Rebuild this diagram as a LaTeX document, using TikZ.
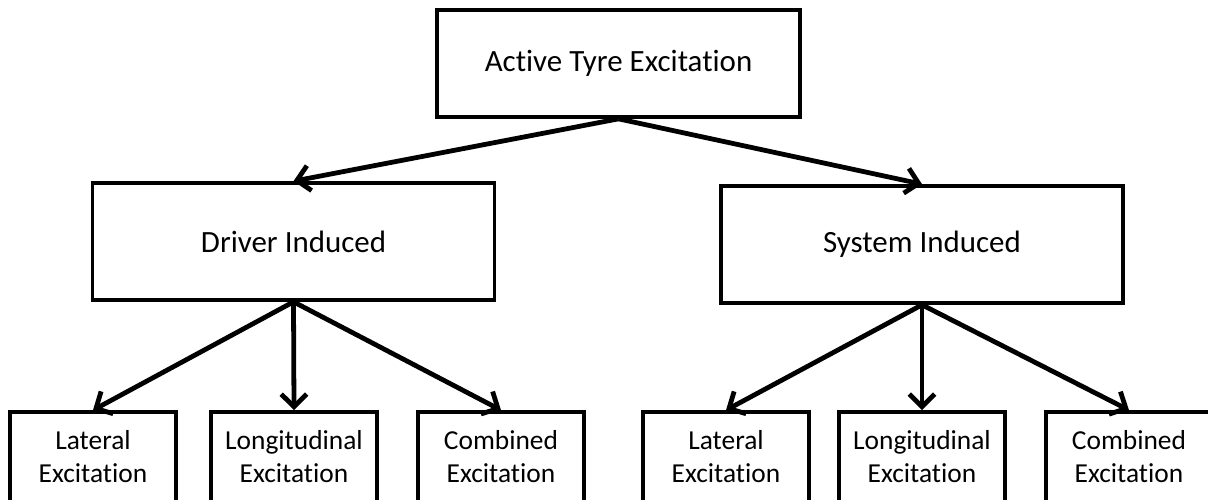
\documentclass[tikz,border=0pt]{standalone}
\usepackage{fontspec}
\setmainfont{Carlito}[Ligatures = NoCommon]
\usetikzlibrary{arrows.meta}

\begin{document}
\begin{tikzpicture}[x = 0.025cm, y = -0.025cm,
    box/.style = {draw, line width = 2.6pt, inner sep = 0pt, align = center},
    bigbox/.style = {box, minimum width = 10.05cm, minimum height = 2.925cm, font = \fontsize{22}{26}\selectfont},
    leafbox/.style = {box, minimum width = 4.15cm, minimum height = 2.25cm, font = \fontsize{19.5}{23.5}\selectfont},
    arr/.style = {line width = 3.4pt, -{Straight Barb[length = 9pt, width = 18pt]}}]
        \clip (0,0) rectangle (1208,499);
        \fill[white] (0,0) rectangle (1208,499);
        \node[box, minimum width = 9.075cm, minimum height = 2.675cm, font = \fontsize{22}{26}\selectfont] (ate) at (618.5,63.5) {Active Tyre Excitation};
        \node[bigbox] (drv) at (293.5,241.5) {Driver Induced};
        \node[bigbox] (sys) at (922,244.5) {System Induced};
        \node[leafbox] (latd) at (93,457) {Lateral\\Excitation};
        \node[leafbox] (lond) at (294,457) {Longitudinal\\Excitation};
        \node[leafbox] (comd) at (501,457) {Combined\\Excitation};
        \node[leafbox] (lats) at (726,457) {Lateral\\Excitation};
        \node[leafbox] (lons) at (922,457) {Longitudinal\\Excitation};
        \node[leafbox] (coms) at (1129,457) {Combined\\Excitation};
        \draw[arr] (ate.south) -- (drv.north);
        \draw[arr] (ate.south) -- (sys.north);
        \draw[arr] (drv.south) -- (latd.north);
        \draw[arr] (drv.south) -- (lond.north);
        \draw[arr] (drv.south) -- (comd.north);
        \draw[arr] (sys.south) -- (lats.north);
        \draw[arr] (sys.south) -- (lons.north);
        \draw[arr] (sys.south) -- (coms.north);
      \end{tikzpicture}
\end{document}
